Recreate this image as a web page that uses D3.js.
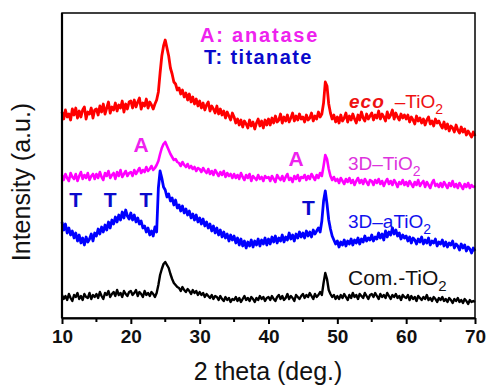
<!DOCTYPE html>
<html>
<head>
<meta charset="utf-8">
<script src="https://cdn.jsdelivr.net/npm/d3@7"></script>
<style>
  body { margin: 0; background: #fff; }
  svg { font-family: "Liberation Sans", Arial, sans-serif; }
</style>
</head>
<body>
<svg id="xrd" width="488" height="391"></svg>
<script>
// 2 theta sampling grid (deg.), 10 to 70 in 0.25 steps
const theta = d3.range(10, 70.001, 0.25);

const xTicks = [10, 20, 30, 40, 50, 60, 70];
const xMinorTicks = [15, 25, 35, 45, 55, 65];

const seriesNames = ["eco", "3D\u2013TiO", "3D\u2013aTiO", "Com.-TiO"];

// intensities (a.u., stacked offsets included)
const ecoTiO2 = [
  206, 199, 208, 201, 204, 198, 209, 203, 210, 200, 207, 201, 208, 211, 199, 206, 204, 210, 200, 208,
  209, 203, 212, 206, 214, 204, 210, 216, 205, 211, 208, 215, 207, 213, 210, 217, 206, 214, 209, 216,
  217, 210, 218, 211, 216, 220, 209, 215, 212, 219, 210, 216, 213, 209, 214, 218, 226, 245, 262, 272,
  278, 270, 262, 250, 244, 236, 234, 228, 230, 224, 228, 221, 225, 218, 224, 216, 221, 214, 219, 212,
  217, 210, 215, 208, 213, 216, 207, 212, 209, 205, 212, 204, 209, 203, 207, 200, 206, 202, 198, 205,
  201, 195, 199, 193, 198, 191, 197, 194, 190, 198, 192, 196, 189, 195, 199, 192, 197, 190, 198, 193,
  199, 193, 200, 195, 202, 196, 198, 204, 195, 201, 197, 203, 196, 200, 205, 197, 202, 198, 204, 199,
  201, 196, 203, 198, 200, 205, 197, 202, 199, 206, 201, 204, 215, 236, 232, 214, 205, 199, 203, 196,
  201, 195, 203, 197, 200, 205, 196, 202, 198, 204, 199, 195, 203, 198, 206, 200, 197, 204, 199, 202,
  205, 198, 203, 200, 207, 199, 204, 201, 197, 206, 200, 203, 208, 199, 205, 201, 198, 204, 200, 203,
  199, 203, 196, 201, 198, 194, 202, 197, 200, 195, 199, 193, 198, 201, 194, 197, 192, 199, 195, 197,
  193, 190, 196, 189, 194, 187, 192, 190, 186, 193, 188, 185, 191, 186, 189, 183, 187, 184, 181, 186,
  182
];

const tio2_3D = [
  143, 138, 144, 140, 137, 145, 141, 139, 144, 137, 142, 146, 139, 143, 140, 145, 138, 142, 144, 139,
  144, 140, 146, 141, 138, 145, 142, 147, 140, 143, 145, 139, 146, 142, 148, 141, 144, 147, 142, 145,
  146, 142, 148, 144, 147, 150, 145, 148, 146, 151, 147, 149, 152, 148, 150, 153, 157, 164, 170, 174,
  176, 172, 168, 164, 161, 158, 159, 156, 155, 152, 156, 153, 151, 154, 150, 152, 149, 151, 147, 150,
  149, 146, 150, 147, 145, 149, 144, 147, 143, 148, 145, 142, 146, 143, 147, 141, 145, 142, 144, 140,
  144, 140, 143, 139, 145, 141, 138, 143, 140, 144, 137, 142, 140, 138, 143, 139, 141, 137, 142, 140,
  141, 137, 142, 139, 136, 143, 140, 138, 142, 137, 141, 144, 138, 140, 136, 142, 139, 143, 137, 141,
  140, 143, 138, 142, 139, 144, 141, 138, 143, 140, 145, 142, 152, 163, 159, 149, 142, 138, 141, 137,
  139, 135, 140, 137, 134, 139, 136, 140, 135, 138, 133, 137, 140, 135, 138, 134, 139, 136, 133, 138,
  137, 133, 138, 135, 139, 134, 137, 132, 136, 139, 134, 137, 133, 138, 135, 131, 136, 134, 138, 133,
  136, 132, 137, 134, 131, 136, 133, 138, 132, 135, 137, 131, 136, 133, 130, 135, 138, 132, 134, 131,
  135, 131, 136, 133, 130, 135, 132, 137, 131, 134, 130, 135, 132, 129, 134, 131, 135, 130, 133, 131,
  132
];

const aTiO2_3D = [
  96, 88, 94, 85, 90, 83, 87, 80, 85, 77, 83, 75, 80, 73, 81, 76, 79, 84, 77, 85,
  82, 89, 84, 91, 86, 93, 88, 96, 90, 98, 94, 101, 96, 103, 98, 106, 100, 108, 102, 99,
  105, 98, 103, 96, 100, 94, 97, 90, 92, 86, 90, 83, 87, 82, 91, 86, 130, 147, 140, 131,
  128, 121, 124, 117, 120, 113, 118, 110, 113, 107, 112, 105, 109, 103, 107, 100, 104, 98, 103, 96,
  100, 94, 99, 92, 96, 90, 94, 87, 92, 85, 90, 83, 88, 81, 86, 80, 84, 77, 83, 78,
  82, 75, 80, 73, 79, 72, 77, 70, 76, 72, 78, 71, 77, 73, 79, 72, 78, 74, 80, 73,
  79, 74, 81, 76, 82, 75, 80, 77, 83, 76, 81, 78, 85, 79, 83, 77, 84, 80, 86, 81,
  85, 80, 87, 82, 86, 81, 88, 84, 87, 90, 86, 97, 117, 127, 114, 98, 89, 82, 78, 74,
  77, 71, 76, 73, 78, 72, 77, 74, 79, 73, 78, 75, 80, 74, 79, 76, 82, 77, 80, 78,
  83, 77, 81, 79, 85, 80, 84, 78, 87, 81, 86, 83, 90, 84, 88, 82, 85, 79, 83, 80,
  82, 77, 81, 75, 80, 78, 74, 79, 76, 81, 74, 78, 75, 80, 73, 77, 75, 79, 72, 76,
  74, 78, 72, 76, 71, 75, 73, 77, 70, 74, 72, 68, 74, 70, 73, 67, 71, 69, 65, 70,
  67
];

const comTiO2 = [
  23, 19, 22, 18, 24, 20, 17, 23, 21, 25, 19, 22, 18, 24, 21, 20, 25, 19, 23, 21,
  24, 20, 26, 22, 19, 25, 23, 27, 21, 24, 26, 22, 28, 23, 25, 21, 27, 24, 22, 26,
  27, 23, 25, 28, 22, 26, 24, 21, 27, 23, 25, 22, 26, 24, 21, 25, 33, 43, 49, 54,
  56, 53, 50, 44, 39, 35, 33, 31, 30, 27, 31, 28, 26, 29, 27, 24, 28, 25, 27, 23,
  26, 23, 25, 21, 24, 22, 20, 23, 19, 22, 21, 18, 22, 19, 17, 21, 18, 20, 16, 19,
  18, 21, 17, 20, 16, 19, 22, 18, 20, 17, 21, 19, 16, 20, 18, 22, 19, 21, 17, 20,
  21, 18, 22, 19, 17, 21, 23, 19, 22, 18, 20, 24, 19, 22, 20, 17, 23, 21, 19, 22,
  24, 20, 23, 21, 25, 22, 19, 24, 21, 23, 26, 23, 35, 45, 39, 28, 24, 21, 23, 19,
  22, 19, 23, 20, 24, 21, 18, 23, 20, 25, 21, 23, 19, 24, 22, 20, 25, 22, 19, 23,
  24, 21, 25, 22, 19, 24, 21, 23, 20, 25, 22, 19, 23, 21, 24, 20, 22, 18, 23, 21,
  20, 23, 18, 22, 19, 21, 17, 22, 20, 18, 21, 19, 23, 18, 20, 17, 21, 19, 16, 20,
  18, 21, 17, 19, 16, 20, 18, 15, 19, 17, 20, 16, 18, 15, 19, 17, 14, 18, 16, 17,
  16
];

// peak marks: [2theta, intensity at the letter]
const anatasePeaks = [[21.5, 166], [44, 152]];
const titanatePeaks = [[12, 111], [17, 111], [22.2, 111], [45.8, 103]];

const svg = d3.select("#xrd"),
    margin = { top: 13, right: 13, bottom: 73, left: 62 },
    width = +svg.attr("width") - margin.left - margin.right,
    height = +svg.attr("height") - margin.top - margin.bottom;

const g = svg.append("g").attr("transform", `translate(${margin.left},${margin.top})`);

const x = d3.scaleLinear().domain([10, 70]).range([0, width]);
const y = d3.scaleLinear().domain([0, 305]).range([height, 0]);

const series = [
    { values: ecoTiO2, color: "#ff0000", w: 2.8 },
    { values: tio2_3D, color: "#ff00ff", w: 2.6 },
    { values: aTiO2_3D, color: "#0000ff", w: 2.8 },
    { values: comTiO2, color: "#000000", w: 2.4 }
];

const line = d3.line()
    .x((d, i) => x(theta[i]))
    .y(d => y(d));

g.selectAll("path.trace")
    .data(series.slice().reverse())
    .enter().append("path")
    .attr("class", "trace")
    .attr("d", d => line(d.values))
    .attr("fill", "none")
    .attr("stroke", d => d.color)
    .attr("stroke-width", d => d.w)
    .attr("stroke-linejoin", "round");

// frame
g.append("rect")
    .attr("width", width).attr("height", height)
    .attr("fill", "none").attr("stroke", "#000").attr("stroke-width", 1.5);

// x axis
const xAxis = g.append("g")
    .attr("transform", `translate(0,${height})`)
    .call(d3.axisBottom(x).tickValues(xTicks).tickSize(6).tickPadding(6).tickSizeOuter(0));
xAxis.select(".domain").attr("stroke-width", 2.2);
xAxis.selectAll(".tick line").attr("stroke-width", 2);
xAxis.selectAll(".tick text")
    .attr("font-size", "19px").attr("font-weight", "bold").attr("fill", "#111")
    .attr("font-family", "'Liberation Sans', Arial, sans-serif");

g.append("g")
    .attr("transform", `translate(0,${height})`)
    .selectAll("line")
    .data(xMinorTicks)
    .enter().append("line")
    .attr("x1", d => x(d)).attr("x2", d => x(d))
    .attr("y1", 0).attr("y2", 4)
    .attr("stroke", "#000").attr("stroke-width", 2);

g.append("line")
    .attr("x1", 0).attr("x2", 0).attr("y1", 0).attr("y2", height)
    .attr("stroke", "#000").attr("stroke-width", 2.2);

// axis titles
svg.append("text")
    .attr("x", 268)
    .attr("y", 380)
    .attr("text-anchor", "middle")
    .attr("font-size", "25px")
    .attr("fill", "#111")
    .text("2 theta (deg.)");

svg.append("text")
    .attr("transform", "rotate(-90)")
    .attr("x", -182)
    .attr("y", 30)
    .attr("text-anchor", "middle")
    .attr("font-size", "25px")
    .attr("fill", "#111")
    .text("Intensity (a.u.)");

// legend of phase letters
svg.append("text")
    .attr("x", 200).attr("y", 42)
    .attr("font-size", "20px").attr("font-weight", "bold")
    .attr("letter-spacing", "1.8px")
    .attr("fill", "#ee22ee")
    .text("A: anatase");

svg.append("text")
    .attr("x", 204).attr("y", 64)
    .attr("font-size", "20px").attr("font-weight", "bold")
    .attr("letter-spacing", "1.4px")
    .attr("fill", "#0a0acc")
    .text("T: titanate");

// phase letters above peaks
g.selectAll("text.anatase")
    .data(anatasePeaks)
    .enter().append("text")
    .attr("class", "anatase")
    .attr("x", d => x(d[0])).attr("y", d => y(d[1]))
    .attr("text-anchor", "middle")
    .attr("font-size", "21px").attr("font-weight", "bold")
    .attr("fill", "#ee22ee")
    .text("A");

g.selectAll("text.titanate")
    .data(titanatePeaks)
    .enter().append("text")
    .attr("class", "titanate")
    .attr("x", d => x(d[0])).attr("y", d => y(d[1]))
    .attr("text-anchor", "middle")
    .attr("font-size", "21px").attr("font-weight", "bold")
    .attr("fill", "#0a0acc")
    .text("T");

// sample labels
function sampleLabel(px, py, size, color, prefix, italic) {
    const t = svg.append("text")
        .attr("x", px).attr("y", py)
        .attr("font-size", size + "px")
        .attr("fill", color);
    if (italic) {
        t.append("tspan").attr("font-style", "italic").attr("font-weight", "bold")
            .attr("letter-spacing", "1px").text(italic);
        t.append("tspan").attr("dx", 10).text("\u2013TiO");
    } else {
        t.append("tspan").text(prefix);
    }
    t.append("tspan")
        .attr("font-size", Math.round(size * 0.72) + "px")
        .attr("dy", size * 0.3)
        .text("2");
    return t;
}

sampleLabel(349, 108, 19, "#ee1111", null, seriesNames[0]);
sampleLabel(348, 170, 19, "#dd33dd", seriesNames[1]);
sampleLabel(348, 228, 19, "#1111ee", seriesNames[2]);
sampleLabel(348, 285, 21, "#111111", seriesNames[3]);
</script>
</body>
</html>
